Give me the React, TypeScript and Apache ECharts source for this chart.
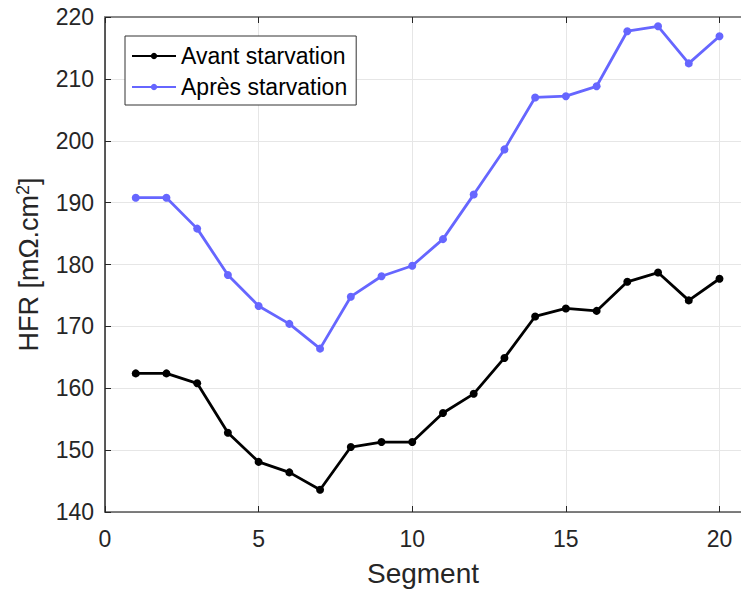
import React, { useEffect, useRef } from "react";
import * as echarts from "echarts";

const segments = [1, 2, 3, 4, 5, 6, 7, 8, 9, 10, 11, 12, 13, 14, 15, 16, 17, 18, 19, 20];
const avant = [162.4, 162.4, 160.8, 152.8, 148.1, 146.4, 143.6, 150.5, 151.3, 151.3, 156.0, 159.1, 164.9, 171.6, 172.9, 172.5, 177.2, 178.7, 174.2, 177.7];
const apres = [190.8, 190.8, 185.8, 178.3, 173.3, 170.4, 166.4, 174.8, 178.1, 179.8, 184.1, 191.3, 198.6, 207.0, 207.2, 208.8, 217.7, 218.5, 212.5, 216.9];
const seriesNames = ["Avant starvation", "Après starvation"];

const FONT = "Liberation Sans, Arial, sans-serif";
const TXT = "#262626";
const X_MAX = 20.7;

export default function App() {
  const ref = useRef<HTMLDivElement>(null);
  useEffect(() => {
    if (!ref.current) return;
    const chart = echarts.init(ref.current, null, { renderer: "svg" });
    const mk = (vals: number[]) => segments.map((s, i) => [s, vals[i]]);
    chart.setOption({
      animation: false,
      textStyle: { fontFamily: FONT },
      grid: { left: 105, top: 17, right: 0, height: 495.5, containLabel: false },
      legend: {
        orient: "vertical",
        left: 125,
        top: 36,
        backgroundColor: "#fff",
        borderColor: "#333",
        borderWidth: 1,
        borderRadius: 0,
        padding: [8, 9, 6, 6],
        itemGap: 7,
        itemWidth: 44,
        itemHeight: 8,
        textStyle: { fontSize: 23, lineHeight: 24, color: "#000", fontFamily: FONT },
        data: seriesNames,
      },
      xAxis: [
        {
          type: "value",
          min: 0,
          max: X_MAX,
          interval: 5,
          name: "Segment",
          nameLocation: "middle",
          nameGap: 47,
          nameTextStyle: { fontSize: 28, color: TXT, fontFamily: FONT },
          axisLine: { show: true, lineStyle: { color: "#555", width: 1.5 } },
          axisTick: { show: true, inside: true, length: 6, lineStyle: { color: "#262626" } },
          axisLabel: {
            fontSize: 23,
            color: TXT,
            margin: 15,
            fontFamily: FONT,
            showMaxLabel: false,
            formatter: (v: number) => (v > 20 ? "" : String(v)),
          },
          splitLine: { show: true, lineStyle: { color: "#e6e6e6", width: 1 } },
        },
        {
          type: "value",
          position: "top",
          min: 0,
          max: X_MAX,
          interval: 5,
          axisLine: { show: true, onZero: false, lineStyle: { color: "#888", width: 2 } },
          axisTick: { show: true, inside: true, length: 6, lineStyle: { color: "#262626" } },
          axisLabel: { show: false },
          splitLine: { show: false },
        },
      ],
      yAxis: {
        type: "value",
        min: 140,
        max: 220,
        interval: 10,
        name: "{a|HFR [mΩ.cm}{s|2}{a|]}",
        nameLocation: "middle",
        nameGap: 61,
        nameTextStyle: {
          color: TXT,
          fontFamily: FONT,
          rich: {
            a: { fontSize: 27, color: TXT, fontFamily: FONT, lineHeight: 30 },
            s: { fontSize: 18, color: TXT, fontFamily: FONT, verticalAlign: "top", lineHeight: 30, padding: [0, 0, 12, 0] },
          },
        },
        axisLine: { show: true, lineStyle: { color: "#262626", width: 1.5 } },
        axisTick: { show: true, inside: true, length: 6, lineStyle: { color: "#262626" } },
        axisLabel: { fontSize: 23, color: TXT, margin: 11, fontFamily: FONT },
        splitLine: { show: true, lineStyle: { color: "#e6e6e6", width: 1 } },
      },
      series: [
        {
          name: seriesNames[0],
          type: "line",
          data: mk(avant),
          color: "#000000",
          symbol: "circle",
          symbolSize: 8,
          lineStyle: { width: 2.8, color: "#000000" },
          itemStyle: { color: "#000000" },
        },
        {
          name: seriesNames[1],
          type: "line",
          data: mk(apres),
          color: "#6666ff",
          symbol: "circle",
          symbolSize: 8,
          lineStyle: { width: 2.8, color: "#6666ff" },
          itemStyle: { color: "#6666ff" },
        },
      ],
    });
    return () => chart.dispose();
  }, []);
  return <div ref={ref} style={{ width: 741, height: 592, position: "absolute", left: 0, top: 0 }} />;
}
